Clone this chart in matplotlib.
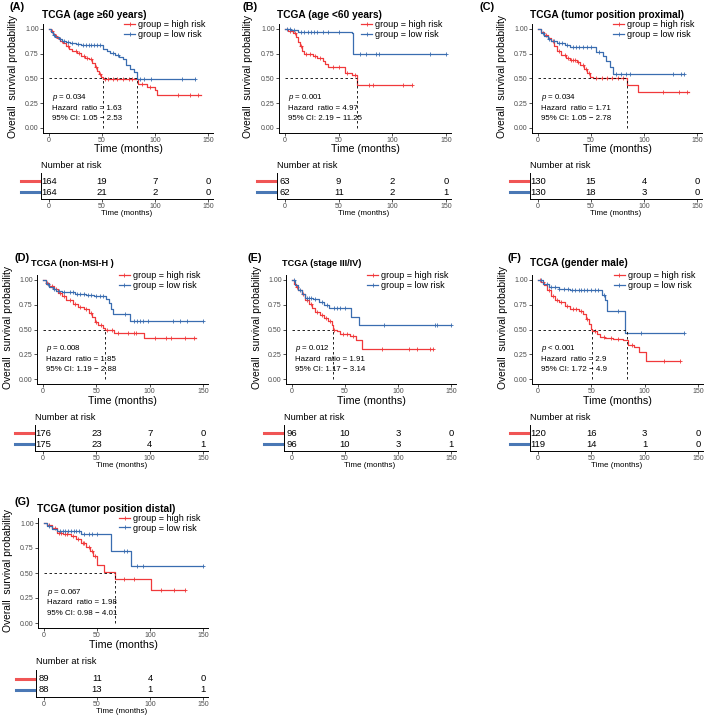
import numpy as np
import matplotlib
matplotlib.use('Agg')
import matplotlib.pyplot as plt
from matplotlib.lines import Line2D

plt.rcParams['font.family'] = ['Liberation Sans', 'DejaVu Sans']
plt.rcParams['mathtext.fontset'] = 'custom'
plt.rcParams['mathtext.it'] = 'Liberation Sans:italic'
plt.rcParams['mathtext.rm'] = 'Liberation Sans'

# ---------------- data ----------------
titles = ["TCGA (age \u226560 years)", "TCGA (age <60 years)", "TCGA (tumor position proximal)",
          "TCGA (non-MSI-H )", "TCGA (stage III/IV)", "TCGA (gender male)",
          "TCGA (tumor position distal)"]
labels = ["(A)", "(B)", "(C)", "(D)", "(E)", "(F)", "(G)"]
pvals = ["= 0.034", "= 0.001", "= 0.034", "= 0.008", "= 0.012", "< 0.001", "= 0.067"]
hrs = ["1.63", "4.97", "1.71", "1.85", "1.91", "2.9", "1.98"]
cis = ["1.05 \u2212 2.53", "2.19 \u2212 11.25", "1.05 \u2212 2.78", "1.19 \u2212 2.88",
       "1.17 \u2212 3.14", "1.72 \u2212 4.9", "0.98 \u2212 4.01"]
time_ticks = [0, 50, 100, 150]

# Panel A
A_hi_t = [0, 2, 4, 6, 8, 10, 13, 16, 19, 22, 26, 30, 34, 38, 41, 43, 45, 47, 49, 51, 84, 92, 100, 102, 143]
A_hi_s = [1.00, 0.98, 0.95, 0.93, 0.91, 0.88, 0.86, 0.83, 0.80, 0.78, 0.76, 0.73, 0.71, 0.70, 0.66, 0.62, 0.58, 0.55, 0.52, 0.49, 0.44, 0.41, 0.38, 0.335, 0.335]
A_hi_c = [3, 7, 12, 18, 25, 28, 33, 36, 40, 44, 48, 53, 56, 60, 64, 70, 75, 78, 88, 95, 122, 133, 141]
A_lo_t = [0, 2, 4, 6, 9, 12, 16, 20, 25, 30, 51, 55, 58, 62, 66, 70, 73, 76, 80, 83, 138]
A_lo_s = [1.00, 0.97, 0.94, 0.92, 0.90, 0.88, 0.87, 0.86, 0.85, 0.84, 0.80, 0.78, 0.76, 0.74, 0.72, 0.70, 0.64, 0.60, 0.57, 0.49, 0.49]
A_lo_c = [5, 10, 14, 18, 22, 27, 32, 35, 38, 40, 42, 45, 48, 60, 65, 86, 90, 96, 125, 138]
A_med = [51, 83]
A_risk_hi = [164, 19, 7, 0]
A_risk_lo = [164, 21, 2, 0]

# Panel B
B_hi_t = [0, 3, 7, 10, 12, 14, 16, 18, 26, 30, 35, 37, 40, 56, 62, 67, 118]
B_hi_s = [1.00, 0.98, 0.96, 0.92, 0.87, 0.83, 0.78, 0.75, 0.73, 0.71, 0.68, 0.65, 0.62, 0.56, 0.54, 0.43, 0.43]
B_hi_c = [5, 9, 15, 20, 23, 28, 33, 45, 50, 58, 65, 78, 82, 110, 118]
B_lo_t = [0, 6, 12, 62, 63, 150]
B_lo_s = [1.00, 0.99, 0.97, 0.96, 0.75, 0.75]
B_lo_c = [2, 5, 8, 15, 18, 21, 24, 27, 30, 35, 40, 50, 70, 75, 85, 88, 135, 150]
B_med = [67]
B_risk_hi = [63, 9, 2, 0]
B_risk_lo = [62, 11, 2, 1]

# Panel C
C_hi_t = [0, 3, 6, 9, 12, 15, 18, 22, 26, 30, 37, 40, 43, 46, 49, 52, 84, 94, 142]
C_hi_s = [1.00, 0.97, 0.94, 0.91, 0.88, 0.83, 0.78, 0.74, 0.71, 0.69, 0.67, 0.64, 0.60, 0.56, 0.52, 0.51, 0.43, 0.36, 0.36]
C_hi_c = [8, 14, 20, 25, 28, 31, 33, 35, 38, 42, 45, 48, 55, 60, 65, 70, 75, 80, 118, 133, 141]
C_lo_t = [0, 3, 6, 9, 12, 18, 25, 30, 55, 61, 64, 68, 71, 138]
C_lo_s = [1.00, 0.96, 0.93, 0.90, 0.88, 0.86, 0.84, 0.82, 0.77, 0.73, 0.68, 0.62, 0.55, 0.55]
C_lo_c = [5, 10, 15, 20, 23, 27, 33, 36, 39, 42, 46, 50, 58, 74, 78, 83, 87, 127, 135, 138]
C_med = [84]
C_risk_hi = [130, 15, 4, 0]
C_risk_lo = [130, 18, 3, 0]

# Panel D
D_hi_t = [0, 3, 6, 10, 14, 18, 22, 28, 33, 38, 43, 46, 49, 52, 56, 58, 67, 95, 143]
D_hi_s = [1.00, 0.97, 0.94, 0.91, 0.87, 0.84, 0.80, 0.76, 0.73, 0.71, 0.67, 0.63, 0.58, 0.55, 0.52, 0.495, 0.46, 0.41, 0.41]
D_hi_c = [4, 8, 12, 16, 20, 25, 30, 35, 40, 45, 50, 54, 60, 65, 70, 80, 85, 87, 105, 115, 120, 133, 142]
D_lo_t = [0, 3, 6, 9, 12, 18, 30, 40, 48, 59, 62, 64, 66, 82, 150]
D_lo_s = [1.00, 0.96, 0.93, 0.91, 0.89, 0.88, 0.86, 0.85, 0.84, 0.81, 0.77, 0.71, 0.66, 0.59, 0.59]
D_lo_c = [5, 10, 15, 20, 25, 28, 32, 35, 38, 42, 45, 50, 53, 56, 77, 85, 88, 91, 94, 98, 122, 128, 135, 150]
D_med = [58]
D_risk_hi = [176, 23, 7, 0]
D_risk_lo = [175, 23, 4, 1]

# Panel E
E_hi_t = [0, 2, 4, 6, 9, 12, 16, 19, 22, 26, 30, 34, 38, 39, 42, 45, 55, 60, 66, 133]
E_hi_s = [1.00, 0.96, 0.93, 0.90, 0.86, 0.80, 0.76, 0.72, 0.68, 0.65, 0.62, 0.59, 0.55, 0.50, 0.48, 0.45, 0.43, 0.39, 0.305, 0.305]
E_hi_c = [5, 10, 14, 18, 24, 28, 32, 36, 40, 48, 52, 58, 85, 110, 118, 130, 133]
E_lo_t = [0, 3, 6, 9, 12, 20, 25, 30, 35, 56, 63, 150]
E_lo_s = [1.00, 0.95, 0.90, 0.86, 0.82, 0.81, 0.78, 0.75, 0.72, 0.63, 0.55, 0.55]
E_lo_c = [2, 8, 14, 16, 18, 22, 28, 33, 40, 42, 45, 50, 87, 135, 137, 150]
E_med = [39]
E_risk_hi = [96, 10, 3, 0]
E_risk_lo = [96, 10, 3, 1]

# Panel F
F_hi_t = [0, 3, 6, 8, 12, 16, 20, 25, 30, 38, 42, 45, 48, 50, 51, 55, 58, 63, 70, 80, 84, 90, 95, 101, 133]
F_hi_s = [1.00, 0.98, 0.95, 0.90, 0.84, 0.80, 0.78, 0.74, 0.71, 0.69, 0.66, 0.61, 0.56, 0.51, 0.48, 0.45, 0.42, 0.41, 0.40, 0.39, 0.34, 0.32, 0.27, 0.18, 0.18]
F_hi_c = [2, 5, 10, 14, 18, 22, 27, 33, 36, 40, 46, 53, 62, 68, 75, 88, 118, 133]
F_lo_t = [0, 5, 10, 20, 30, 60, 63, 65, 82, 137]
F_lo_s = [1.00, 0.96, 0.93, 0.91, 0.90, 0.85, 0.80, 0.69, 0.46, 0.46]
F_lo_c = [3, 8, 12, 16, 20, 24, 28, 32, 35, 38, 40, 43, 46, 50, 53, 56, 62, 75, 97, 137]
F_med = [51, 83]
F_risk_hi = [120, 16, 3, 0]
F_risk_lo = [119, 14, 1, 0]

# Panel G
G_hi_t = [0, 3, 8, 12, 18, 25, 30, 35, 40, 43, 46, 50, 57, 67, 101, 133]
G_hi_s = [1.00, 0.98, 0.95, 0.90, 0.89, 0.87, 0.84, 0.80, 0.76, 0.72, 0.67, 0.58, 0.51, 0.44, 0.33, 0.33]
G_hi_c = [5, 10, 14, 16, 20, 22, 27, 32, 37, 38, 42, 45, 48, 75, 85, 110, 123, 133]
G_lo_t = [0, 3, 8, 12, 35, 63, 82, 150]
G_lo_s = [1.00, 0.97, 0.94, 0.92, 0.89, 0.72, 0.575, 0.575]
G_lo_c = [5, 15, 18, 20, 23, 25, 28, 30, 33, 38, 42, 45, 50, 75, 78, 88, 93, 150]
G_med = [67]
G_risk_hi = [89, 11, 4, 0]
G_risk_lo = [88, 13, 1, 1]

curves = [
    (A_hi_t, A_hi_s, A_hi_c, A_lo_t, A_lo_s, A_lo_c, A_med, A_risk_hi, A_risk_lo),
    (B_hi_t, B_hi_s, B_hi_c, B_lo_t, B_lo_s, B_lo_c, B_med, B_risk_hi, B_risk_lo),
    (C_hi_t, C_hi_s, C_hi_c, C_lo_t, C_lo_s, C_lo_c, C_med, C_risk_hi, C_risk_lo),
    (D_hi_t, D_hi_s, D_hi_c, D_lo_t, D_lo_s, D_lo_c, D_med, D_risk_hi, D_risk_lo),
    (E_hi_t, E_hi_s, E_hi_c, E_lo_t, E_lo_s, E_lo_c, E_med, E_risk_hi, E_risk_lo),
    (F_hi_t, F_hi_s, F_hi_c, F_lo_t, F_lo_s, F_lo_c, F_med, F_risk_hi, F_risk_lo),
    (G_hi_t, G_hi_s, G_hi_c, G_lo_t, G_lo_s, G_lo_c, G_med, G_risk_hi, G_risk_lo),
]

# ---------------- layout (pixels) ----------------
W, H = 709, 717
RED = '#F0393B'
BLUE = '#3A6DB0'
GREY = '#4D4D4D'

x0px = [49, 285, 538, 43, 292, 538, 44]
x150px = [208, 446, 697, 203, 451, 698, 203]
row_of = [0, 0, 0, 1, 1, 1, 2]
rows = [
    dict(y1=29, y0=128, rt=173, rb=199, ty=15, ly=7, xl=149, nar=165),
    dict(y1=280, y0=379, rt=425, rb=451, ty=263, ly=258, xl=401, nar=417),
    dict(y1=523, y0=623, rt=670, rb=697, ty=509, ly=502, xl=645, nar=661),
]
title_x = [42, 277, 530, 31, 282, 530, 37]
title_fs = [7.3, 7.3, 7.3, 6.6, 6.6, 7.3, 7.3]
label_x = [10, 242, 480, 15, 248, 508, 15]
ylab_x = [13, 248, 502, 8, 257, 503, 8]

fig = plt.figure(figsize=(W / 100, H / 100), dpi=100)


def fx(px):
    return px / W


def fy(py):
    return 1 - py / H


XL = (-6, 155)
YL = (-0.05, 1.05)

for i in range(7):
    hi_t, hi_s, hi_c, lo_t, lo_s, lo_c, med, r_hi, r_lo = curves[i]
    r = rows[row_of[i]]
    k = (x150px[i] - x0px[i]) / 150.0
    left = x0px[i] + XL[0] * k
    right = x150px[i] + (XL[1] - 150) * k
    ky = (r['y0'] - r['y1'])
    top = r['y1'] - (YL[1] - 1) * ky
    bot = r['y0'] - YL[0] * ky

    ax = fig.add_axes([fx(left), fy(bot), fx(right - left), (bot - top) / H])
    ax.set_xlim(*XL)
    ax.set_ylim(*YL)
    for sp in ['top', 'right']:
        ax.spines[sp].set_visible(False)
    for sp in ['left', 'bottom']:
        ax.spines[sp].set_linewidth(0.7)
    ax.set_xticks(time_ticks)
    ax.set_yticks([0, 0.25, 0.5, 0.75, 1.0])
    ax.set_yticklabels(['0.00', '0.25', '0.50', '0.75', '1.00'])
    ax.tick_params(labelsize=5, colors=GREY, length=2.0, width=0.6, pad=0.8)
    ax.tick_params(axis='both', color='#333333')

    for t, s, c, col in [(hi_t, hi_s, hi_c, RED), (lo_t, lo_s, lo_c, BLUE)]:
        t = np.asarray(t, float)
        s = np.asarray(s, float)
        ax.step(t, s, where='post', color=col, lw=0.9)
        c = np.asarray(c, float)
        idx = np.searchsorted(t, c, side='right') - 1
        ax.plot(c, s[idx], ls='none', marker='+', color=col, ms=3.2, mew=0.6)

    ax.plot([0, max(med)], [0.5, 0.5], ls=(0, (3, 3)), color='black', lw=0.6)
    for m in med:
        ax.plot([m, m], [0, 0.5], ls=(0, (3, 3)), color='black', lw=0.6)

    ax.text(3, 0.31, r"$p$ " + pvals[i], fontsize=5.7, va='center', ha='left')
    ax.text(3, 0.20, "Hazard  ratio = " + hrs[i], fontsize=5.7, va='center', ha='left')
    ax.text(3, 0.095, "95% CI: " + cis[i], fontsize=5.7, va='center', ha='left')

    hdl = [Line2D([], [], color=RED, lw=0.9, marker='+', ms=3.2, mew=0.6),
           Line2D([], [], color=BLUE, lw=0.9, marker='+', ms=3.2, mew=0.6)]
    ax.legend(hdl, ['group = high risk', 'group = low risk'], loc='upper left',
              bbox_to_anchor=((71 - XL[0]) / (XL[1] - XL[0]), 1.035), frameon=False,
              fontsize=6.5, handlelength=1.2, handletextpad=0.35, borderpad=0,
              labelspacing=0.05, borderaxespad=0)

    fig.text(fx(title_x[i]), fy(r['ty']), titles[i], fontsize=title_fs[i], fontweight='bold',
             ha='left', va='center')
    fig.text(fx(label_x[i]), fy(r['ly']), labels[i], fontsize=7.8, fontweight='bold',
             ha='left', va='center')
    fig.text(fx(ylab_x[i]), fy((top + bot) / 2 - 2), "Overall  survival probability",
             fontsize=7.4, rotation=90, ha='center', va='center')
    fig.text(fx((left + right) / 2), fy(r['xl']), "Time (months)", fontsize=7.7,
             ha='center', va='center')

    # risk table
    rleft = left - 2
    ax2 = fig.add_axes([fx(rleft), fy(r['rb']), fx(right - rleft), (r['rb'] - r['rt']) / H])
    ax2.set_xlim(XL[0] - 2 / k, XL[1])
    ax2.set_ylim(0, 1)
    for sp in ['top', 'right']:
        ax2.spines[sp].set_visible(False)
    for sp in ['left', 'bottom']:
        ax2.spines[sp].set_linewidth(0.7)
    ax2.set_yticks([])
    ax2.set_xticks(time_ticks)
    ax2.tick_params(axis='x', labelsize=5, colors=GREY, length=2.0, width=0.6, pad=0.6)
    ax2.tick_params(axis='x', color='#333333')
    for tt, n in zip(time_ticks, r_hi):
        ax2.text(tt, 0.68, str(n), fontsize=6.8, ha='center', va='center')
    for tt, n in zip(time_ticks, r_lo):
        ax2.text(tt, 0.26, str(n), fontsize=6.8, ha='center', va='center')
    ax2.set_xlabel("Time (months)", fontsize=5.8, labelpad=0.5)
    fig.text(fx(rleft), fy(r['nar']), "Number at risk", fontsize=6.7, ha='left', va='center')
    yh = r['rb'] - 0.68 * (r['rb'] - r['rt'])
    yl = r['rb'] - 0.26 * (r['rb'] - r['rt'])
    fig.add_artist(Line2D([fx(rleft - 20), fx(rleft - 2)], [fy(yh), fy(yh)], color='#F05555', lw=2.2))
    fig.add_artist(Line2D([fx(rleft - 20), fx(rleft - 2)], [fy(yl), fy(yl)], color='#4A78B5', lw=2.2))

fig.savefig('out.png', dpi=100)
